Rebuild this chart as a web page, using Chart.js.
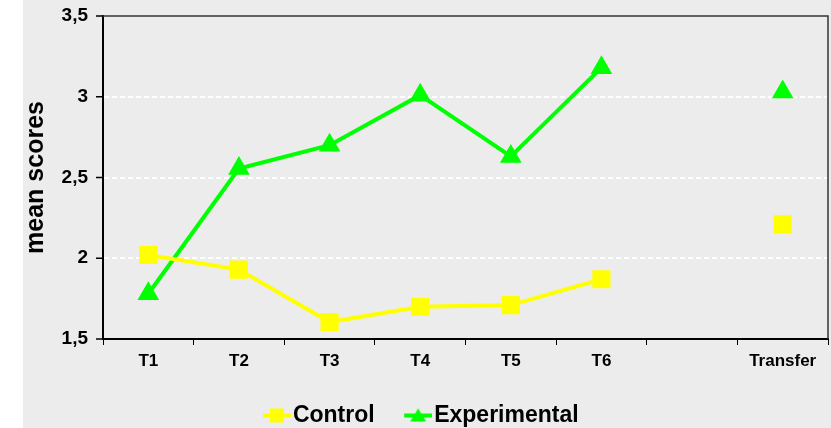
<!DOCTYPE html>
<html><head><meta charset="utf-8">
<script src="https://cdn.jsdelivr.net/npm/chart.js@4/dist/chart.umd.min.js"></script>
<style>html,body{margin:0;padding:0;background:#fff}#w{width:831px;height:428px}</style>
</head><body><div id="w"><canvas id="c" width="831" height="428"></canvas></div>
<script>
const categories = ['T1','T2','T3','T4','T5','T6','','Transfer'];
const controlValues = [2.02, 1.93, 1.605, 1.70, 1.71, 1.87, null, 2.21];
const experimentalValues = [1.78, 2.555, 2.70, 3.01, 2.63, 3.18, null, 3.03];
const yTicks = [1.5, 2, 2.5, 3, 3.5];

function legendIcon(color, shape){
  const c = document.createElement('canvas');
  c.width = 50; c.height = 18;
  const g = c.getContext('2d');
  const ox = 22;
  g.strokeStyle = color; g.lineWidth = 4;
  g.beginPath(); g.moveTo(ox,9); g.lineTo(ox+28,9); g.stroke();
  g.fillStyle = color;
  if (shape === 'rect') { g.fillRect(ox+7,2,14,14); }
  else { g.beginPath(); g.moveTo(ox+14,2); g.lineTo(ox+22,15); g.lineTo(ox+6,15); g.closePath(); g.fill(); }
  return c;
}

const bgPlugin = {
  id: 'bg',
  beforeDraw(chart){
    const ctx = chart.ctx;
    ctx.save(); ctx.fillStyle = '#ececec'; ctx.fillRect(23,0,chart.width-23,chart.height); ctx.restore();
  },
  afterLayout(chart){
    if (chart.legend) { chart.legend.left -= 10; chart.legend.right -= 10; }
  },
  beforeDatasetsDraw(chart){
    const {ctx, chartArea:a} = chart;
    ctx.save();
    ctx.strokeStyle = '#333'; ctx.lineWidth = 1.5;
    ctx.beginPath(); ctx.moveTo(a.left, a.top); ctx.lineTo(a.right, a.top); ctx.lineTo(a.right, a.bottom); ctx.stroke();
    ctx.restore();
  }
};

const FONT = 'Liberation Sans, Arial, sans-serif';

new Chart(document.getElementById('c'), {
  type: 'line',
  data: {
    labels: categories,
    datasets: [
      { label: 'Control', data: controlValues, borderColor: '#ffff00', backgroundColor: '#ffff00',
        borderWidth: 4, pointStyle: 'rect', pointRadius: 10, pointHoverRadius: 10, spanGaps: false, tension: 0 },
      { label: 'Experimental', data: experimentalValues, borderColor: '#00ff00', backgroundColor: '#00ff00',
        borderWidth: 4, pointStyle: 'triangle', pointRadius: 8.5, pointHoverRadius: 8.5, spanGaps: false, tension: 0 }
    ]
  },
  options: {
    responsive: false, animation: false,
    layout: { autoPadding: false, padding: { left: 21, right: 3, top: 16, bottom: -9 } },
    plugins: {
      tooltip: { enabled: false },
      legend: {
        position: 'bottom',
        labels: {
          color: '#000', font: { family: FONT, size: 23, weight: 'bold' },
          usePointStyle: true, pointStyleWidth: 31, boxHeight: 18, padding: 17,
          generateLabels(chart){
            return chart.data.datasets.map((d,i)=>({
              text: d.label, fillStyle: d.borderColor, strokeStyle: d.borderColor,
              pointStyle: legendIcon(d.borderColor, i===0?'rect':'tri'), datasetIndex: i, lineWidth: 0
            }));
          }
        }
      }
    },
    scales: {
      x: {
        offset: true,
        afterFit(s){ s.height = 48; },
        grid: { display: true, drawOnChartArea: false, drawTicks: true, tickLength: 6, color: '#000', offset: true },
        border: { color: '#000', width: 2 },
        ticks: { color: '#000', font: { family: FONT, size: 17, weight: 'bold' }, padding: 6, maxRotation: 0, autoSkip: false }
      },
      y: {
        min: 1.5, max: 3.5,
        afterBuildTicks(s){ s.ticks = yTicks.map(v=>({value:v})); },
        afterFit(s){ s.width = 82; s.paddingTop = 0; s.paddingBottom = 0; },
        title: { display: true, text: 'mean scores', color: '#000', font: { family: FONT, size: 25, weight: 'bold' }, padding: 0 },
        grid: {
          color: (c)=> (c.tick && (c.tick.value===1.5 || c.tick.value===3.5)) ? 'rgba(0,0,0,0)' : '#ffffff',
          lineWidth: 2, drawTicks: false
        },
        border: { color: '#000', width: 2, dash: [5,3] },
        ticks: { color: '#000', font: { family: FONT, size: 19, weight: 'bold' }, padding: 15,
          callback: (v)=> String(v).replace('.', ',') }
      }
    }
  },
  plugins: [bgPlugin, {
    id: 'ytickmarks',
    afterDraw(chart){
      const {ctx} = chart; const y = chart.scales.y; const a = chart.chartArea;
      ctx.save(); ctx.strokeStyle = '#000'; ctx.lineWidth = 1.5;
      yTicks.forEach(v=>{ const py = y.getPixelForValue(v); ctx.beginPath(); ctx.moveTo(a.left-7, py); ctx.lineTo(a.left, py); ctx.stroke(); });
      ctx.restore();
    }
  }]
});
</script></body></html>
